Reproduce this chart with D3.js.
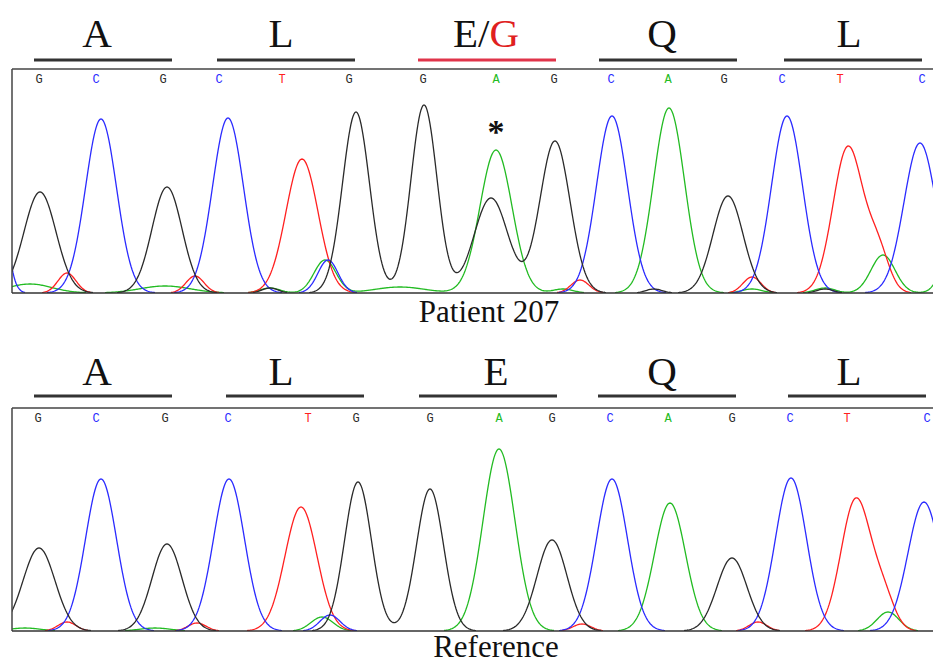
<!DOCTYPE html>
<html>
<head>
<meta charset="utf-8">
<script src="https://cdn.jsdelivr.net/npm/d3@7"></script>
<style>
  body { margin: 0; background: #fff; }
  svg { display: block; }
</style>
</head>
<body>
<div id="chart"></div>
<script>
// ---- data (scan position, peak height, peak width) ----
const sequence = "GCGCTGGAGCAGCTC";

// patient 207
const patCallPos = [39, 96, 163, 219, 282, 349, 423, 496, 554, 611, 668, 724, 782, 840, 922];
const patCodons = ["A", "L", "E/G", "Q", "L"];
const patCodonLabelPos = [97, 281, 486, 662, 849];
const patCodonBarPos = [103, 286, 487, 668, 853];
const patG = [[40, 101, 16], [167, 106, 15], [270, 5, 8], [356, 181, 13.5], [424, 188, 13],
              [491, 95, 17], [555, 152, 15], [654, 4, 8], [728, 97, 15], [825, 4, 8]];
const patC = [[-5, 150, 9], [101, 174, 15.5], [228, 175, 15.5], [328, 33, 10], [612, 177, 15.5],
              [787, 177, 15.5], [920, 150, 16]];
const patT = [[67, 20, 9], [195, 17, 9], [302, 134, 16], [580, 13, 9], [752, 16, 9],
              [848, 146, 15], [878, 40, 11]];
const patA = [[30, 9, 22], [165, 7, 25], [270, 5, 10], [325, 33, 11], [400, 6, 25],
              [496, 143, 16], [563, 4, 10], [669, 185, 15.5], [752, 4, 10], [825, 5, 10],
              [883, 38, 12], [960, 100, 12]];

// reference
const refCallPos = [38, 96, 165, 228, 308, 356, 430, 499, 552, 610, 668, 732, 790, 847, 927];
const refCodons = ["A", "L", "E", "Q", "L"];
const refCodonLabelPos = [97, 281, 496, 662, 849];
const refCodonBarPos = [103, 295, 488, 667, 857];
const refG = [[39, 83, 16], [167, 87, 15], [358, 149, 13.5], [430, 142, 13.5], [552, 91, 15], [732, 73, 15]];
const refC = [[101, 152, 15.5], [229, 152, 15.5], [330, 16, 10], [612, 152, 15.5], [791, 153, 15.5], [924, 129, 16]];
const refT = [[67, 9, 9], [197, 8, 9], [301, 124, 16], [582, 7, 9], [758, 9, 9], [856, 132, 15], [884, 30, 11]];
const refA = [[25, 3, 15], [155, 3, 15], [322, 14, 11], [499, 182, 16], [670, 128, 15.5], [888, 19, 11]];

const baseColor = { A: "#22bb22", C: "#2b2bff", G: "#2a2a2a", T: "#ff2020" };

const W = 933, H = 664;
const svg = d3.select("#chart").append("svg").attr("width", W).attr("height", H);

const x = d3.scaleLinear().domain([0, 933]).range([0, 933]);

function trace(peaks) {
  const pts = [];
  for (let s = 0; s <= 940; s++) {
    let v = 0;
    peaks.forEach(p => {
      const d = s - p[0];
      v += p[1] * Math.exp(-d * d / (2 * p[2] * p[2]));
    });
    pts.push({ s: s, v: v });
  }
  return pts;
}

function panel(opt) {
  const left = 12, top = opt.top, base = opt.base;
  const y = d3.scaleLinear().domain([0, 224]).range([base, base - 224]);
  const g = svg.append("g");

  const clipId = "clip" + opt.id;
  svg.append("clipPath").attr("id", clipId)
    .append("rect").attr("x", left).attr("y", top).attr("width", W - left).attr("height", base - top);

  // codon bars and letters
  g.selectAll(".bar").data(opt.codons).join("line")
    .attr("x1", (d, i) => x(opt.barPos[i]) - 69)
    .attr("x2", (d, i) => x(opt.barPos[i]) + 69)
    .attr("y1", opt.barY).attr("y2", opt.barY)
    .attr("stroke", d => d === "E/G" ? "#e0344a" : "#333")
    .attr("stroke-width", 3.2);

  const lab = g.selectAll(".codon").data(opt.codons).join("text")
    .attr("x", (d, i) => x(opt.labelPos[i]))
    .attr("y", opt.labelY)
    .attr("text-anchor", "middle")
    .attr("font-family", "'Liberation Serif', 'Times New Roman', serif")
    .attr("font-size", 41)
    .attr("fill", "#111");
  lab.each(function (d) {
    const t = d3.select(this);
    if (d === "E/G") {
      t.append("tspan").text("E/");
      t.append("tspan").attr("fill", "#e02020").text("G");
    } else {
      t.text(d);
    }
  });

  // traces
  const line = d3.line()
    .defined(d => d.v > 0.4)
    .x(d => x(d.s))
    .y(d => y(d.v));
  const tg = g.append("g").attr("clip-path", "url(#" + clipId + ")");
  [["A", opt.A], ["T", opt.T], ["C", opt.C], ["G", opt.G]].forEach(([b, peaks]) => {
    tg.append("path")
      .attr("d", line(trace(peaks)))
      .attr("fill", "none")
      .attr("stroke", baseColor[b])
      .attr("stroke-width", 1.3);
  });

  // frame
  g.append("line").attr("x1", left).attr("x2", W).attr("y1", top).attr("y2", top)
    .attr("stroke", "#444").attr("stroke-width", 1.5);
  g.append("line").attr("x1", left).attr("x2", left).attr("y1", top).attr("y2", base)
    .attr("stroke", "#444").attr("stroke-width", 1.5);
  g.append("line").attr("x1", left).attr("x2", W).attr("y1", base).attr("y2", base)
    .attr("stroke", "#333").attr("stroke-width", 1.5);

  // base calls
  g.selectAll(".call").data(sequence.split("")).join("text")
    .attr("x", (d, i) => x(opt.callPos[i]))
    .attr("y", top + 14)
    .attr("text-anchor", "middle")
    .attr("font-family", "'Liberation Mono', 'Courier New', monospace")
    .attr("font-size", 12)
    .attr("fill", d => baseColor[d])
    .text(d => d);

  // title under panel
  g.append("text")
    .attr("x", opt.titleX).attr("y", opt.titleY)
    .attr("text-anchor", "middle")
    .attr("font-family", "'Liberation Serif', 'Times New Roman', serif")
    .attr("font-size", 31)
    .attr("fill", "#111")
    .text(opt.title);

  return { g: g, y: y };
}

const p1 = panel({
  id: 1, top: 69, base: 293, barY: 60, labelY: 47,
  codons: patCodons, labelPos: patCodonLabelPos, barPos: patCodonBarPos, callPos: patCallPos,
  G: patG, C: patC, T: patT, A: patA,
  title: "Patient 207", titleX: 489, titleY: 322
});

// mutation marker above the A/G peak
p1.g.append("text")
  .attr("x", x(patCallPos[7]))
  .attr("y", 143)
  .attr("text-anchor", "middle")
  .attr("font-family", "'Liberation Serif', 'Times New Roman', serif")
  .attr("font-weight", "bold")
  .attr("font-size", 34)
  .attr("fill", "#111")
  .text("*");

panel({
  id: 2, top: 408, base: 631, barY: 396, labelY: 385,
  codons: refCodons, labelPos: refCodonLabelPos, barPos: refCodonBarPos, callPos: refCallPos,
  G: refG, C: refC, T: refT, A: refA,
  title: "Reference", titleX: 496, titleY: 657
});
</script>
</body>
</html>
